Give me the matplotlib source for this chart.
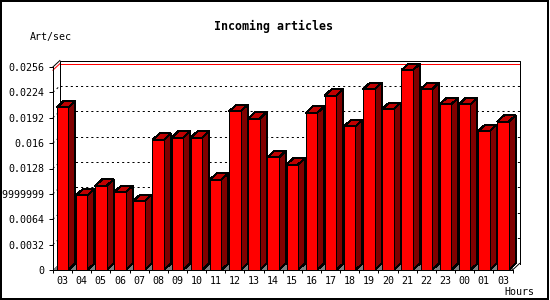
import matplotlib
matplotlib.use("Agg")
import matplotlib.pyplot as plt
from matplotlib.patches import Polygon, Rectangle

plt.rcParams['lines.scale_dashes'] = False
plt.rcParams['font.family'] = ['DejaVu Sans Mono']
plt.rcParams['patch.antialiased'] = False

hours = ["03", "04", "05", "06", "07", "08", "09", "10", "11", "12", "13", "14",
         "15", "16", "17", "18", "19", "20", "21", "22", "23", "00", "01", "03"]
values = [0.0205, 0.0094, 0.0106, 0.0098, 0.0087, 0.0164, 0.0167, 0.0167,
          0.0114, 0.0200, 0.0191, 0.0142, 0.0133, 0.0198, 0.0220, 0.0181,
          0.0228, 0.0203, 0.0252, 0.0228, 0.0209, 0.0209, 0.0175, 0.0187]
yticks = [0, 0.0032, 0.0064, 0.0096, 0.0128, 0.016, 0.0192, 0.0224, 0.0256]
ytick_labels = ["0", "0.0032", "0.0064", "0.0095999999999999", "0.0128", "0.016",
                "0.0192", "0.0224", "0.0256"]
title = "Incoming articles"
ylabel = "Art/sec"
xlabel = "Hours"

W, H = 550, 300
fig = plt.figure(figsize=(W / 100, H / 100), dpi=100)
fig.patch.set_facecolor("white")

ax_l, ax_b, ax_w, ax_h = 52.9, 30, 459.6, 203
ax = fig.add_axes([ax_l / W, ax_b / H, ax_w / W, ax_h / H])
n = len(values)
xmin, xmax = -0.5, n - 0.5
ymax = yticks[-1]
ax.set_xlim(xmin, xmax)
ax.set_ylim(0, ymax)

# depth offset in data units (7 px right, 6.5 px up)
DX = 7 / (ax_w / (xmax - xmin))
DY = 6.5 / (ax_h / ymax)

lw = 0.72
# floor
ax.add_patch(Polygon([(xmin, 0), (xmax, 0), (xmax + DX, DY), (xmin + DX, DY)],
                     closed=True, facecolor="#808080", edgecolor="none", zorder=1))
# grid on back wall (diagonal part + horizontal part)
for v in yticks[1:-1]:
    ax.plot([xmin, xmin + DX], [v, v + DY], color="black", lw=lw,
            linestyle=(0, (1.5, 2.2)), zorder=1.5, clip_on=False)
    ax.plot([xmin + DX, xmax + DX], [v + DY, v + DY], color="black", lw=lw,
            linestyle=(0, (1.5, 2.2)), zorder=1.5, clip_on=False, snap=True)
# max line
vmax = max(values)
ax.plot([xmin, xmin + DX], [vmax, vmax + DY], color="red", lw=lw, zorder=1.6, clip_on=False)
ax.plot([xmin + DX, xmax + DX], [vmax + DY, vmax + DY], color="red", lw=lw, zorder=1.6,
        clip_on=False, snap=True)
# back wall outline
ax.plot([xmin + DX, xmin + DX, xmax + DX, xmax + DX],
        [DY, ymax + DY, ymax + DY, DY], color="black", lw=lw, zorder=1.7, clip_on=False,
        snap=True)
ax.plot([xmin, xmin + DX], [ymax, ymax + DY], color="black", lw=lw, zorder=1.7, clip_on=False)
ax.plot([xmax, xmax + DX], [0, DY], color="black", lw=lw, zorder=1.7, clip_on=False)

# bars
bw = 0.6
for i, v in enumerate(values):
    x0 = i - bw / 2
    x1 = i + bw / 2
    ax.add_patch(Polygon([(x1, 0), (x1 + DX, DY), (x1 + DX, v + DY), (x1, v)], closed=True,
                         facecolor="#800000", edgecolor="black", lw=lw, zorder=3, clip_on=False))
    ax.add_patch(Polygon([(x0, v), (x1, v), (x1 + DX, v + DY), (x0 + DX, v + DY)], closed=True,
                         facecolor="#C00000", edgecolor="black", lw=lw, zorder=3, clip_on=False))
ax.bar(range(n), values, width=bw, color="#FF0000", edgecolor="black", linewidth=lw,
       zorder=4, clip_on=False)

for s in ["top", "right"]:
    ax.spines[s].set_visible(False)
for s in ["left", "bottom"]:
    ax.spines[s].set_linewidth(lw)
    ax.spines[s].set_zorder(5)

ax.set_yticks(yticks)
ax.set_yticklabels(ytick_labels)
ax.set_xticks(range(n))
ax.set_xticklabels(hours)
ax.set_xticks([i + 0.5 for i in range(-1, n)], minor=True)
ax.tick_params(axis="y", length=2.9, width=lw, pad=2.9, labelsize=7.2)
ax.tick_params(axis="x", which="major", length=0, pad=4.6, labelsize=7.2)
ax.tick_params(axis="x", which="minor", length=2.5, width=lw)
ax.set_facecolor("white")

fig.text(274 / W, 1 - 26.7 / H, title, ha="center", va="center", fontsize=8.4,
         fontweight="bold")
fig.text(30 / W, 1 - 36.7 / H, ylabel, ha="left", va="center", fontsize=7.2)
fig.text(504 / W, 1 - 292 / H, xlabel, ha="left", va="center", fontsize=7.2)

fig.add_artist(Rectangle((0.5 / W, 1.3 / H), 547 / W, 298.2 / H, transform=fig.transFigure,
                         fill=False, edgecolor="black", lw=1.2))

fig.savefig("out.png", dpi=100)
